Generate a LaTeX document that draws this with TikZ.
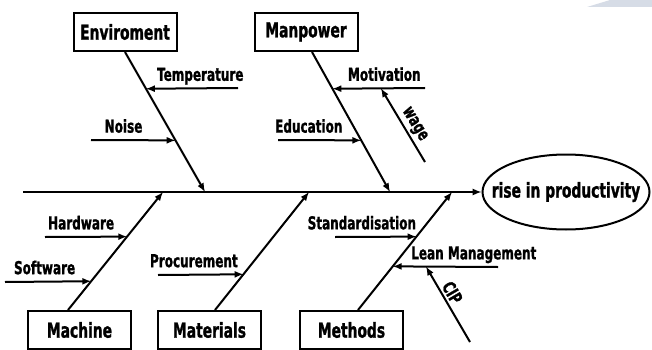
\documentclass[tikz,border=0pt]{standalone}
\usepackage{fontspec}
\setmainfont{DejaVu Sans}[FakeStretch=0.675, BoldFeatures={FakeBold=1.2}]
\usetikzlibrary{shapes.geometric}
\definecolor{haze}{RGB}{214,220,230}

\begin{document}
\begin{tikzpicture}[x=1pt, y=-1pt, line width=2pt,
		cause/.style={draw, minimum width=103pt, minimum height=38pt, inner sep=0pt, font=\fontsize{20.5}{24}\bfseries},
		lbl/.style={anchor=base, yshift=7.5pt, inner sep=0pt, font=\fontsize{17.8}{21}\bfseries},
		tilted/.style={sloped, above, inner sep=2pt, font=\fontsize{17.8}{21}\bfseries}]
		\useasboundingbox (0,0) rectangle (652,350);
		\fill[haze] (587,7) -- (610,0) -- (652,0) -- (652,7) -- cycle;

		% head and the five main causes
		\node[draw, ellipse, minimum width=167pt, minimum height=75pt, inner xsep=-16pt, inner ysep=0pt, font=\fontsize{20.5}{24}\bfseries] (effect) at (566,192) {rise in productivity};
		\node[cause] (env) at (125,32) {Enviroment};
		\node[cause] (man) at (306,32) {Manpower};
		\node[cause] (mach) at (79.5,330) {Machine};
		\node[cause] (mat) at (209.5,330) {Materials};
		\node[cause] (meth) at (351.5,330) {Methods};

		% spine
		\coordinate (tail) at (23,192);
		\draw[-latex] (tail) -- (effect.west);
		\coordinate (s1) at (205,192);
		\coordinate (s2) at (390,192);
		\coordinate (s3) at (163,192);
		\coordinate (s4) at (309,192);
		\coordinate (s5) at (452,192);

		% bones
		\draw[-latex] (env.south) -- (s1) coordinate[pos=.2624] (temp) coordinate[pos=.6312] (noise);
		\draw[-latex] ([xshift=6pt]man.south) -- (s2) coordinate[pos=.2624] (moti) coordinate[pos=.6312] (edu);
		\draw[-latex] ([xshift=-11.5pt]mach.north) -- (s3) coordinate[pos=.6218] (hard) coordinate[pos=.2437] (soft);
		\draw[-latex] ([xshift=5.5pt]mat.north) -- (s4) coordinate[pos=.3025] (proc);
		\draw[-latex] ([xshift=6.5pt]meth.north) -- (s5) coordinate[pos=.6218] (stand) coordinate[pos=.3697] (lean);

		% sub causes
		\coordinate (temp0) at (238,88);
		\coordinate (noise0) at (91,140);
		\coordinate (moti0) at (425,88);
		\coordinate (edu0) at (278,140);
		\coordinate (hard0) at (45,237);
		\coordinate (soft0) at (5,282);
		\coordinate (proc0) at (158,275);
		\coordinate (stand0) at (335,237);
		\coordinate (lean0) at (498,267);
		\draw[-latex] (temp0) -- (temp) node[lbl, pos=.41] {Temperature};
		\draw[-latex] (noise0) -- (noise) node[lbl, pos=.385] {Noise};
		\draw[-latex] (moti0) -- (moti) node[lbl, pos=.44] {Motivation} coordinate[pos=.476] (wagetip);
		\draw[-latex] (edu0) -- (edu) node[lbl, pos=.37] {Education};
		\draw[-latex] (hard0) -- (hard) node[lbl, pos=.44] {Hardware};
		\draw[-latex] (soft0) -- (soft) node[lbl, pos=.46] {Software};
		\draw[-latex] (proc0) -- (proc) node[lbl, pos=.42] {Procurement};
		\draw[-latex] (stand0) -- (stand) node[lbl, pos=.33] {Standardisation};
		\draw[-latex] (lean0) -- (lean) node[lbl, pos=.23] {Lean Management} coordinate[pos=.684] (ciptip);

		% second level
		\coordinate (wage0) at (425,162);
		\coordinate (cip0) at (470,342);
		\draw[-latex] (wage0) -- (wagetip) node[tilted, pos=.44] {wage};
		\draw[-latex] (cip0) -- (ciptip) node[tilted, pos=.59] {CIP};
	\end{tikzpicture}
\end{document}
